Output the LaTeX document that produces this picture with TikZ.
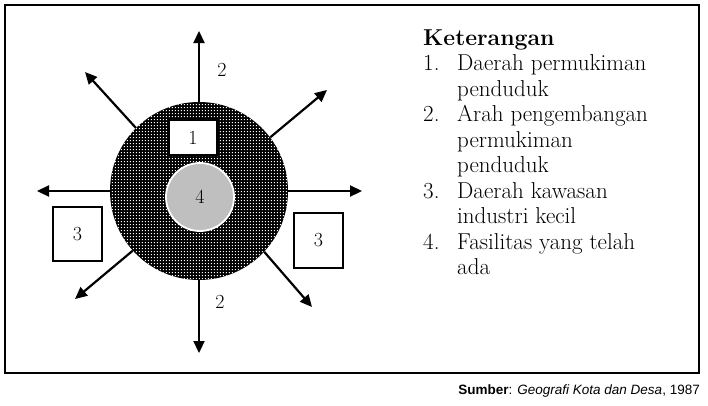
\documentclass[tikz,border=0pt]{standalone}
\usepackage{fontspec}
\newfontfamily\srcfont{Liberation Sans}
\usetikzlibrary{arrows.meta,patterns}
\pgfdeclarepatternformonly{wdots}{\pgfpointorigin}{\pgfqpoint{3.3pt}{3.3pt}}{\pgfqpoint{3.3pt}{3.3pt}}{%
  \pgfpathrectangle{\pgfqpoint{1pt}{1pt}}{\pgfqpoint{1.2pt}{1.2pt}}\pgfusepath{fill}}
\begin{document}
\begin{tikzpicture}[x=1pt,y=-1pt,
  arr/.style={line width=2.2pt,-{Triangle[length=12pt,width=11pt]}},
  box/.style={draw=black,line width=1.1pt,fill=white,inner sep=0pt,font=\fontsize{20}{22}\selectfont},
  num/.style={font=\fontsize{20}{22}\selectfont,inner sep=0pt}]
\useasboundingbox (0,0) rectangle (708,405);
\draw[line width=2pt] (5,5) rectangle (699,373);
% outer circle
\node[circle,minimum size=178pt,inner sep=0pt,fill=black] (c) at (199,191) {};
\fill[pattern=wdots,pattern color=white] (199,191) circle (89);
% inner circle
\node[circle,minimum size=68pt,inner sep=0pt,fill=black!25,draw=white,line width=1.8pt,num] (f) at (200,197) {4};
% box 1
\node[box,minimum width=48pt,minimum height=35pt] (b1) at (193,137.5) {1};
% boxes 3
\node[box,minimum width=49pt,minimum height=54pt] (b3l) at (77.5,234) {3};
\node[box,minimum width=49pt,minimum height=55pt] (b3r) at (318.5,240.5) {3};
% arrow ends
\coordinate (eN) at (199,31);
\coordinate (eS) at (199,353);
\coordinate (eW) at (37,191);
\coordinate (eE) at (362,191);
\coordinate (eNW) at (85,72);
\coordinate (eNE) at (327,90);
\coordinate (eSW) at (75,299);
\coordinate (eSE) at (312,307);
\draw[arr] (c.north) -- (eN);
\draw[arr] (c.south) -- (eS);
\draw[arr] (c.west) -- (eW);
\draw[arr] (c.east) -- (eE);
\draw[arr] (c.135) -- (eNW);
\draw[arr] (c.37) -- (eNE);
\draw[arr] (c.222) -- (eSW);
\draw[arr] (c.317) -- (eSE);
\node[num] (l2a) at (222,70) {2};
\node[num] (l2b) at (220,302) {2};
% legend
\node[anchor=north west,inner sep=0pt,font=\fontsize{23}{25.5}\selectfont] (leg) at (423,27) {%
\begin{tabular}{@{}p{34pt}@{}l@{}}
\multicolumn{2}{@{}l@{}}{\textbf{Keterangan}}\\
1. & Daerah permukiman\\
   & penduduk\\
2. & Arah pengembangan\\
   & permukiman\\
   & penduduk\\
3. & Daerah kawasan\\
   & industri kecil\\
4. & Fasilitas yang telah\\
   & ada
\end{tabular}};
\node[anchor=base east,inner sep=0pt,font=\srcfont\fontsize{13.5}{16}\selectfont] (src) at (700,394) {\textbf{Sumber}: \textit{Geografi Kota dan Desa}, 1987};
\end{tikzpicture}
\end{document}
